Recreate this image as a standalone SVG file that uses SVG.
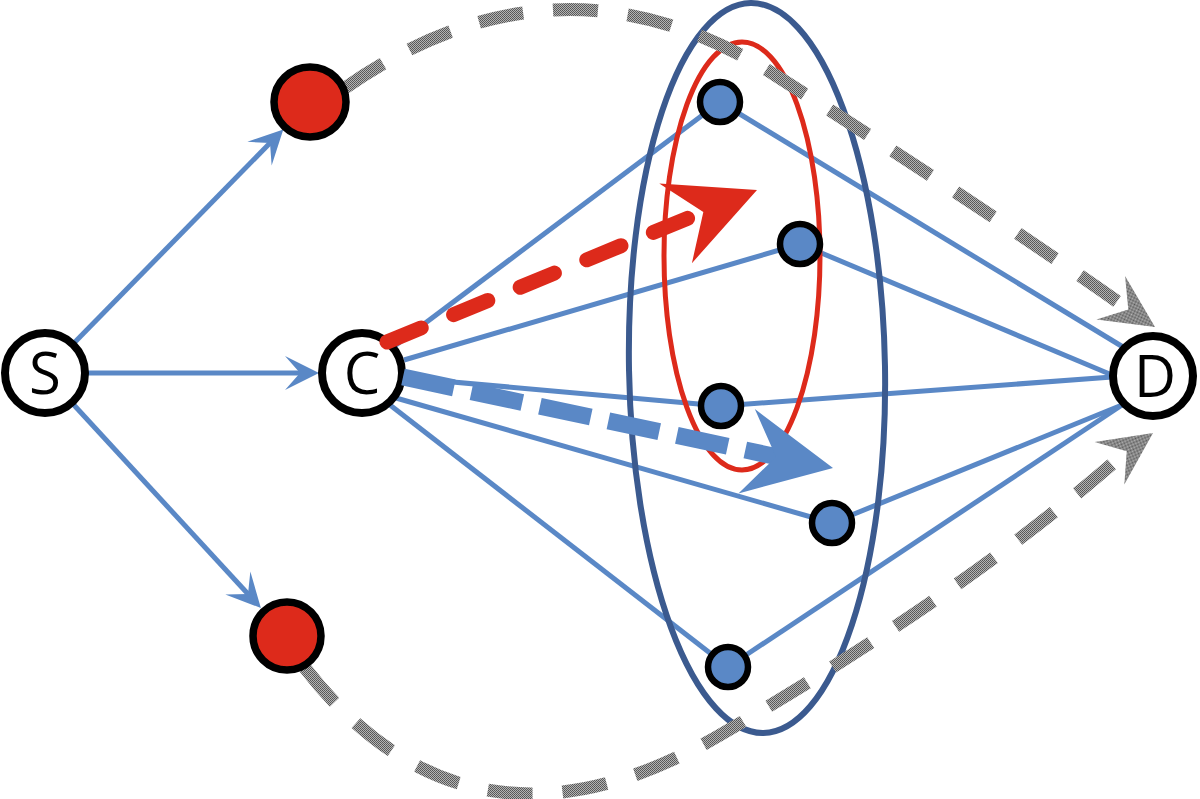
<svg xmlns="http://www.w3.org/2000/svg" xmlns:xlink="http://www.w3.org/1999/xlink" width="1200" height="799" viewBox="0 0 1200 799">
<style>
.thin{stroke:#5a88c6;stroke-width:5;fill:none}
.bignode{fill:#fff;stroke:#000;stroke-width:8}
.rednode{fill:#dd2a1b;stroke:#000;stroke-width:7.5}
.bluenode{fill:#5a88c6;stroke:#000;stroke-width:6.5}
.lbl{font-family:"Open Sans","Noto Sans","Liberation Sans",sans-serif;font-size:58px;fill:#000;text-anchor:middle}
.gray{fill:none;stroke:url(#grain);stroke-width:13;stroke-dasharray:45 30}
</style>
<defs>
<pattern id="grain" patternUnits="userSpaceOnUse" width="2" height="2">
<rect width="2" height="2" fill="#b4b4b4"/>
<rect x="0" y="0" width="1" height="1" fill="#555"/>
<rect x="1" y="1" width="1" height="1" fill="#5e5e5e"/>
</pattern>
<marker id="thinHead" viewBox="-20 -20 40 40" markerWidth="40" markerHeight="40" refX="0" refY="0" orient="auto" markerUnits="userSpaceOnUse">
<path d="M19,0 L-15,-17 L0,0 L-15,17 Z" fill="#5a88c6"/>
</marker>
<path id="bigHead" d="M0,0 L-88,-43 L-58,0 L-88,43 Z"/>
<path id="grayHead" d="M0,0 L-53,-26 L-32,0 L-53,26 Z"/>
</defs>
<rect width="1200" height="799" fill="#fff"/>
<g id="connectors">
<line class="thin" x1="74" y1="343" x2="270" y2="143" marker-end="url(#thinHead)"/>
<line class="thin" x1="88" y1="373" x2="300" y2="373" marker-end="url(#thinHead)"/>
<line class="thin" x1="73" y1="404" x2="248" y2="594" marker-end="url(#thinHead)"/>
<line class="thin" x1="392" y1="348" x2="720" y2="102"/>
<line class="thin" x1="404" y1="360" x2="800" y2="244"/>
<line class="thin" x1="408" y1="378" x2="721" y2="406"/>
<line class="thin" x1="396" y1="398" x2="832" y2="523"/>
<line class="thin" x1="390" y1="405" x2="728" y2="667"/>
<line class="thin" x1="720" y1="102" x2="1123" y2="347"/>
<line class="thin" x1="800" y1="244" x2="1112" y2="375"/>
<line class="thin" x1="721" y1="406" x2="1112" y2="377"/>
<line class="thin" x1="832" y1="523" x2="1122" y2="405"/>
<line class="thin" x1="728" y1="667" x2="1122" y2="405"/>
</g>
<g id="groups">
<ellipse cx="757" cy="368" rx="128" ry="365" transform="rotate(-1 757 368)" fill="none" stroke="#3b5a8f" stroke-width="6"/>
<ellipse cx="742" cy="256" rx="78" ry="214" fill="none" stroke="#dd2a1b" stroke-width="5"/>
</g>
<g id="paths">
<path class="gray" d="M345,88 Q560,-62 775,75 T1128,309"/>
<use href="#grayHead" fill="url(#grain)" transform="translate(1155 327) rotate(33.4)"/>
<path class="gray" d="M305,668 Q470,880 720,735 T1127,451"/>
<use href="#grayHead" fill="url(#grain)" transform="translate(1153 433) rotate(-34.8)"/>
</g>
<g id="node-S"><circle class="bignode" cx="45" cy="373" r="40"/><text class="lbl" x="45" y="394">S</text></g>
<g id="node-C"><circle class="bignode" cx="362" cy="373" r="40"/><text class="lbl" x="362" y="394">C</text></g>
<g id="node-D"><circle class="bignode" cx="1153" cy="376" r="40"/><text class="lbl" x="1155" y="397">D</text></g>
<g id="node-R1"><ellipse class="rednode" cx="310" cy="102" rx="36" ry="35"/></g>
<g id="node-R2"><ellipse class="rednode" cx="287" cy="636" rx="34" ry="34"/></g>
<g id="node-B1"><circle class="bluenode" cx="720" cy="102" r="20"/></g>
<g id="node-B2"><circle class="bluenode" cx="800" cy="244" r="20"/></g>
<g id="node-B3"><circle class="bluenode" cx="721" cy="406" r="20"/></g>
<g id="node-B4"><circle class="bluenode" cx="832" cy="523" r="20"/></g>
<g id="node-B5"><circle class="bluenode" cx="728" cy="667" r="20"/></g>
<g id="flow-arrows">
<line x1="387" y1="342" x2="703" y2="212" stroke="#dd2a1b" stroke-width="15" stroke-linecap="round" stroke-dasharray="37 35"/>
<use href="#bigHead" fill="#dd2a1b" transform="translate(757 190) rotate(-22.3)"/>
<line x1="403" y1="377" x2="778" y2="457" stroke="#5a88c6" stroke-width="17" stroke-dasharray="52 18"/>
<use href="#bigHead" fill="#5a88c6" transform="translate(833 468) rotate(11)"/>
</g>
</svg>
